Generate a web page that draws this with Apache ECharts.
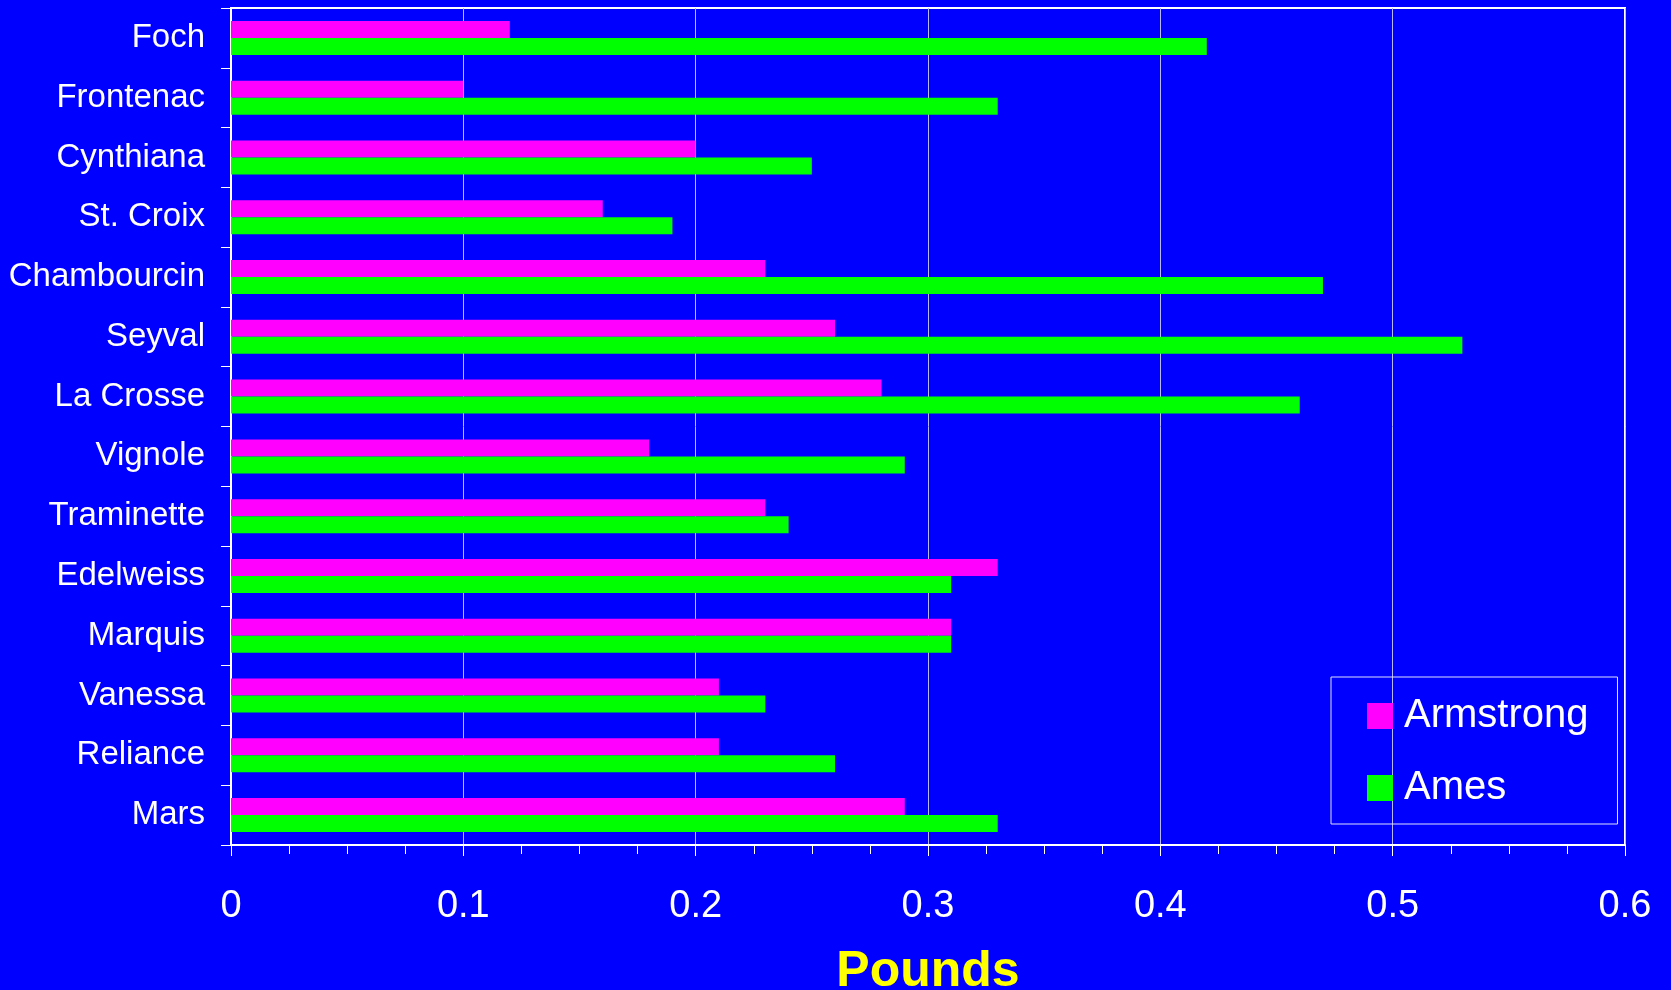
<!DOCTYPE html>
<html>
<head>
<meta charset="utf-8">
<script src="https://cdn.jsdelivr.net/npm/echarts@6/dist/echarts.min.js"></script>
<style>
html,body{margin:0;padding:0;background:#0000FF;}
#chart{width:1671px;height:990px;}
</style>
</head>
<body>
<div id="chart"></div>
<script>
const categories = ['Foch','Frontenac','Cynthiana','St. Croix','Chambourcin','Seyval','La Crosse','Vignole','Traminette','Edelweiss','Marquis','Vanessa','Reliance','Mars'];
const armstrong = [0.12,0.10,0.20,0.16,0.23,0.26,0.28,0.18,0.23,0.33,0.31,0.21,0.21,0.29];
const ames = [0.42,0.33,0.25,0.19,0.47,0.53,0.46,0.29,0.24,0.31,0.31,0.23,0.26,0.33];
const seriesNames = ['Armstrong','Ames'];
const xTicks = [0,0.1,0.2,0.3,0.4,0.5,0.6];

const FONT = '"Liberation Sans", Arial, Helvetica, sans-serif';
const chart = echarts.init(document.getElementById('chart'));
chart.setOption({
  backgroundColor: '#0000FF',
  animation: false,
  textStyle: { fontFamily: FONT },
  grid: {
    left: 231, right: 46, top: 8, bottom: 145,
    outerBoundsMode: 'none',
    containLabel: false,
    show: true, borderColor: '#FFFFFF', borderWidth: 2, backgroundColor: 'transparent'
  },
  legend: {
    orient: 'vertical',
    left: 1331, top: 677,
    padding: [19, 29, 16, 36],
    itemGap: 32,
    itemWidth: 26, itemHeight: 26,
    icon: 'rect',
    borderColor: '#E0E0FF', borderWidth: 1,
    textStyle: { color: '#FFFFFF', fontSize: 40, fontFamily: FONT, padding: [0,0,0,6] },
    data: seriesNames
  },
  xAxis: {
    type: 'value',
    min: xTicks[0], max: xTicks[xTicks.length-1], interval: 0.1,
    name: 'Pounds',
    nameLocation: 'middle',
    nameGap: 102,
    nameTextStyle: { color: '#FFFF00', fontSize: 50, fontWeight: 'bold', fontFamily: FONT },
    axisLine: { show: true, lineStyle: { color: '#FFFFFF', width: 2 } },
    axisTick: { show: true, length: 11, lineStyle: { color: '#FFFFFF', width: 1 } },
    minorTick: { show: true, splitNumber: 4, length: 9, lineStyle: { color: '#FFFFFF', width: 1 } },
    axisLabel: { color: '#FFFFFF', fontSize: 38, margin: 43, fontFamily: FONT,
      formatter: v => String(Math.round(v*10)/10) },
    splitLine: { show: true, lineStyle: { color: '#B8B8FF', width: 1 } }
  },
  yAxis: {
    type: 'category',
    data: categories,
    inverse: true,
    axisLine: { show: true, lineStyle: { color: '#FFFFFF', width: 2 } },
    axisTick: { show: true, length: 10, inside: false, lineStyle: { color: '#FFFFFF', width: 1 } },
    axisLabel: { color: '#FFFFFF', fontSize: 33, margin: 26, fontFamily: FONT, padding: [3,0,0,0] },
    splitLine: { show: false }
  },
  series: [
    { name: seriesNames[0], type: 'bar', data: armstrong, barWidth: 17, barGap: '0%',
      itemStyle: { color: '#FF00FF' } },
    { name: seriesNames[1], type: 'bar', data: ames, barWidth: 17, barGap: '0%',
      itemStyle: { color: '#00FF00' } }
  ]
});
</script>
</body>
</html>
